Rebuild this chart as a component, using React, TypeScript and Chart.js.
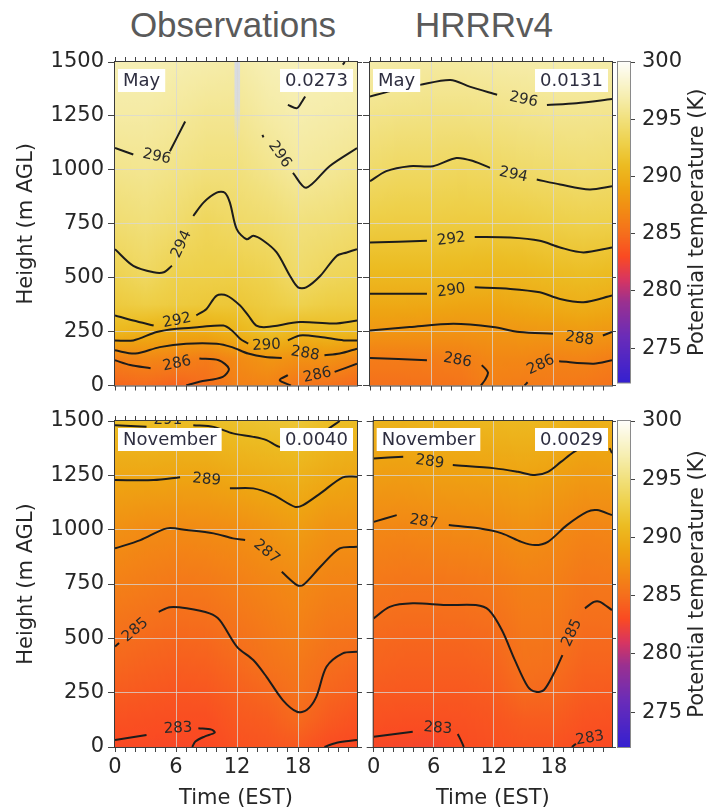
import React, { useEffect, useRef } from "react";
import { Chart, registerables } from "chart.js";

Chart.register(...registerables);

type P = [number, number] | null;
type Lab = [string, number, number, number];

// ---------- axes / ticks ----------
const HOUR_TICKS = [0, 1, 2, 3, 4, 5, 6, 7, 8, 9, 10, 11, 12, 13, 14, 15, 16, 17, 18, 19, 20, 21, 22, 23];
const MAJOR_HOURS = [0, 6, 12, 18];
const HEIGHT_TICKS = [0, 250, 500, 750, 1000, 1250, 1500];
const CBAR_TICKS = [275, 280, 285, 290, 295, 300];
const X_MAX = 23.8;
const Z_MAX = 1500;
const CBAR_MIN = 272;
const CBAR_MAX = 300;

// ---------- potential temperature field (profiles per hour, heights below) ----------
const FIELD_HOURS = [0, 3, 6, 9, 12, 15, 18, 21, 24];
const FIELD_HEIGHTS = [0, 125, 250, 375, 500, 750, 1000, 1250, 1500];

const OBS_MAY_FIELD = [
  [284.5, 286.3, 290.7, 292.3, 293.1, 294.5, 295.6, 296.5, 297.2],
  [284.8, 286.8, 290.1, 292.7, 293.8, 294.9, 295.8, 296.5, 297.2],
  [284.3, 286.5, 289.5, 292.4, 292.9, 294.4, 295.4, 296.2, 297.0],
  [285.0, 286.0, 289.6, 292.1, 292.8, 293.6, 295.0, 295.8, 296.8],
  [286.3, 287.0, 290.4, 292.0, 292.7, 294.1, 295.0, 295.8, 296.6],
  [286.5, 287.9, 291.5, 292.5, 293.1, 294.4, 295.6, 296.5, 297.2],
  [285.5, 287.5, 290.6, 293.1, 294.2, 295.0, 296.3, 296.9, 297.4],
  [285.3, 287.6, 290.9, 292.6, 293.6, 294.8, 296.0, 296.7, 297.3],
  [284.7, 286.7, 290.9, 292.5, 293.3, 294.4, 295.6, 296.5, 297.2],
];
const HRRR_MAY_FIELD = [
  [285.2, 286.0, 288.0, 289.4, 290.6, 292.6, 294.3, 295.5, 296.7],
  [285.2, 286.0, 287.9, 289.4, 290.6, 292.5, 293.9, 295.3, 296.6],
  [285.3, 286.1, 287.8, 289.3, 290.6, 292.5, 293.9, 295.2, 296.4],
  [285.4, 286.2, 287.7, 289.1, 290.5, 292.4, 293.7, 295.2, 296.4],
  [286.3, 286.8, 287.8, 289.1, 290.4, 292.4, 293.9, 295.3, 296.6],
  [286.0, 286.8, 288.0, 289.4, 290.5, 292.5, 294.2, 295.5, 296.7],
  [285.8, 286.5, 288.1, 289.7, 290.8, 292.8, 294.4, 295.7, 296.8],
  [285.7, 286.6, 288.3, 289.9, 291.0, 293.0, 294.6, 295.7, 296.8],
  [285.3, 286.1, 288.0, 289.5, 290.7, 292.9, 294.4, 295.6, 296.7],
];
const OBS_NOV_FIELD = [
  [282.9, 283.4, 284.0, 284.6, 285.1, 286.3, 287.5, 289.2, 291.1],
  [282.9, 283.3, 283.8, 284.3, 284.8, 286.0, 287.1, 289.2, 291.2],
  [282.8, 283.2, 283.6, 284.1, 284.6, 285.7, 287.0, 289.1, 291.1],
  [282.9, 283.2, 283.7, 284.2, 284.7, 285.8, 287.1, 289.1, 291.2],
  [283.4, 283.8, 284.2, 284.7, 285.2, 286.2, 287.3, 289.5, 291.5],
  [283.6, 284.0, 284.6, 285.3, 285.7, 286.6, 287.8, 289.8, 291.7],
  [283.8, 284.8, 285.3, 285.7, 286.2, 287.0, 288.4, 290.1, 292.0],
  [283.1, 283.9, 284.5, 285.0, 285.5, 286.5, 287.6, 289.5, 291.2],
  [282.9, 283.4, 284.1, 284.6, 285.3, 286.4, 287.6, 289.2, 291.0],
];
const HRRR_NOV_FIELD = [
  [282.8, 283.4, 283.9, 284.4, 284.7, 285.7, 286.8, 288.5, 290.3],
  [282.7, 283.3, 283.8, 284.2, 284.6, 285.5, 286.7, 288.4, 290.2],
  [282.6, 283.3, 283.8, 284.2, 284.6, 285.5, 286.9, 288.6, 290.4],
  [283.1, 283.4, 283.8, 284.2, 284.6, 285.6, 287.0, 288.7, 290.5],
  [283.3, 283.6, 284.0, 284.4, 284.8, 285.8, 287.1, 288.8, 290.6],
  [283.5, 284.0, 284.8, 285.3, 285.6, 286.3, 287.5, 289.0, 290.7],
  [283.4, 284.0, 284.6, 285.1, 285.5, 286.2, 287.1, 288.7, 290.5],
  [283.1, 283.5, 284.0, 284.4, 284.8, 285.6, 286.6, 288.2, 290.0],
  [282.9, 283.4, 283.9, 284.4, 284.8, 285.7, 286.7, 288.3, 290.1],
];
// missing-data stripe in the May observations [h0, h1, z0, z1]
const OBS_MAY_GAP = [11.75, 12.3, 1120, 1500];

// ---------- contour lines [hour, height], null = gap for label ----------
const OBS_MAY_296A: P[] = [[0, 1101], [1.8, 1071], null, [5.4, 1086], [6.9, 1224]];
const OBS_MAY_296B: P[] = [[17.0, 1301], [17.9, 1286], [18.4, 1317], [18.7, 1340]];
const OBS_MAY_296C: P[] = [[14.5, 1162], [14.6, 1150], null, [17.5, 986], [18.8, 917], [21.1, 1017], [23.8, 1101]];
const OBS_MAY_296D: P[] = [[22.4, 1488], [22.6, 1500]];
const OBS_MAY_294: P[] = [[0, 632], [1.8, 555], [3.8, 525], [4.8, 525], [5.6, 555], null, [7.7, 786], [8.7, 848], [10.0, 894], [10.8, 894], [11.3, 848], [11.97, 725], [12.95, 678], [13.6, 694], [14.6, 671], [15.9, 617], [17.2, 509], [18.0, 455], [18.8, 455], [20.2, 509], [21.8, 601], [22.8, 617], [23.8, 632]];
const OBS_MAY_292: P[] = [[0, 325], [1.8, 301], [3.8, 278], null, [8.0, 325], [9.0, 355], [10.0, 417], [11.0, 417], [12.3, 371], [13.1, 325], [13.9, 278], [14.9, 271], [18.2, 294], [21.5, 287], [23.8, 301]];
const OBS_MAY_290: P[] = [[0, 209], [1.8, 209], [4.1, 248], [6.1, 263], [8.3, 271], [10.65, 278], [11.5, 255], [12.3, 217], [13.1, 194], null, [17.0, 209], [18.2, 232], [20.2, 225], [22.5, 209], [23.8, 209]];
const OBS_MAY_288: P[] = [[0, 163], [2.0, 148], [4.4, 178], [7.0, 194], [10.0, 194], [11.5, 178], [13.1, 148], [14.8, 132], [16.4, 128], null, [20.6, 140], [22.1, 148], [23.8, 171]];
const OBS_MAY_286A: P[] = [[0, 117], [1.5, 95], [3.5, 80], null, [8.3, 125], [10.2, 117], [11.2, 78], [10.6, 40], [8.3, 17], [7.0, 0]];
const OBS_MAY_286B: P[] = [[17.3, 0], [16.2, 25], [17.0, 48], null, [21.6, 63], [23.8, 101]];
const OBS_MAY_LABELS: Lab[] = [
  ["296", 4.1, 1061, 12], ["296", 16.2, 1071, 55], ["294", 6.55, 655, -65], ["292", 6.1, 301, -12],
  ["290", 14.9, 186, -3], ["288", 18.7, 148, 10], ["286", 6.1, 101, -12], ["286", 19.9, 48, -12],
];

const HRRR_MAY_296: P[] = [[0, 1340], [2.0, 1365], [4.9, 1394], [7.9, 1417], [9.8, 1386], [12.5, 1348], null, [17.4, 1301], [20.3, 1309], [23.8, 1328]];
const HRRR_MAY_294: P[] = [[0, 947], [1.6, 994], [3.9, 1017], [6.2, 1017], [8.5, 1055], [10.2, 1040], [11.8, 1009], null, [16.4, 955], [18.7, 932], [21.6, 909], [23.8, 924]];
const HRRR_MAY_292: P[] = [[0, 663], [5.6, 671], null, [10.3, 689], [13.8, 686], [16.7, 671], [18.7, 640], [21.0, 617], [23.8, 640]];
const HRRR_MAY_290: P[] = [[0, 425], [5.6, 425], null, [10.3, 455], [13.8, 448], [16.7, 432], [18.7, 401], [21.0, 386], [23.8, 417]];
const HRRR_MAY_288: P[] = [[0, 255], [3.9, 271], [8.2, 286], [12.1, 271], [14.7, 248], [18.0, 240], null, [22.9, 232], [23.8, 248]];
const HRRR_MAY_286A: P[] = [[0, 128], [5.6, 117], null, [11.0, 95], [11.6, 60], [11.3, 25], [10.9, 0]];
const HRRR_MAY_286B: P[] = [[15.2, 0], [15.5, 15], null, [18.6, 112], [22.0, 101], [23.8, 117]];
const HRRR_MAY_LABELS: Lab[] = [
  ["296", 15.1, 1325, 12], ["294", 14.1, 978, 12], ["292", 8.0, 678, -8], ["290", 8.0, 440, -8],
  ["288", 20.6, 217, 8], ["286", 8.6, 117, 10], ["286", 16.8, 95, -25],
];

const OBS_NOV_291: P[] = [[0, 1481], [3.1, 1473], null, [7.7, 1481], [9.7, 1473], [11.6, 1443], [13.6, 1427], [14.9, 1412], [16.2, 1381], [18.5, 1380], [20.8, 1458], [22.1, 1500]];
const OBS_NOV_289: P[] = [[0, 1228], [3.8, 1228], [6.4, 1241], null, [11.3, 1190], [13.6, 1190], [15.6, 1159], [17.7, 1105], [18.5, 1113], [20.2, 1167], [22.4, 1241], [23.8, 1244]];
const OBS_NOV_287: P[] = [[0, 914], [2.5, 952], [5.1, 1006], [7.05, 998], [9.7, 983], [11.6, 960], [12.8, 952], null, [16.4, 806], [17.9, 745], [18.5, 745], [20.2, 829], [22.1, 914], [23.8, 921]];
const OBS_NOV_285: P[] = [[0, 462], [0.4, 478], null, [4.3, 622], [5.4, 643], [7.05, 638], [9.3, 615], [10.3, 584], [12.0, 461], [13.6, 400], [14.9, 323], [16.5, 216], [17.9, 162], [18.85, 170], [19.8, 231], [20.8, 369], [22.4, 431], [23.8, 438]];
const OBS_NOV_283A: P[] = [[0, 32], [3.1, 55], null, [8.2, 86], [9.5, 80], [9.8, 66], [8.8, 48], [7.9, 25], [7.6, 0]];
const OBS_NOV_283B: P[] = [[20.6, 0], [21.8, 20], [23.8, 32]];
const OBS_NOV_LABELS: Lab[] = [
  ["291", 5.2, 1505, 0], ["289", 9.0, 1230, 5], ["287", 14.9, 898, 40], ["285", 2.0, 538, -40], ["283", 6.2, 86, -3],
];

const HRRR_NOV_289: P[] = [[0, 1328], [2.95, 1336], null, [7.9, 1297], [12.1, 1282], [14.4, 1266], [16.1, 1251], [17.4, 1266], [18.7, 1312], [20.0, 1358], [21.5, 1400]];
const HRRR_NOV_289B: P[] = [[23.55, 1375], [23.8, 1352]];
const HRRR_NOV_287: P[] = [[0, 1036], [2.3, 1067], null, [7.5, 1021], [10.5, 1006], [12.8, 983], [14.75, 944], [16.1, 929], [17.4, 944], [19.3, 1021], [21.3, 1082], [22.3, 1090], [23.8, 1067]];
const HRRR_NOV_285: P[] = [[0, 592], [1.6, 645], [3.9, 661], [7.2, 653], [10.2, 653], [11.5, 630], [12.8, 538], [14.1, 400], [15.4, 277], [16.2, 254], [17.0, 262], [18.0, 339], [18.85, 423], null, [21.1, 638], [22.0, 668], [22.6, 668], [23.8, 630]];
const HRRR_NOV_283A: P[] = [[0, 47], [3.9, 70], null, [8.4, 60], [8.85, 17], [9.0, 0]];
const HRRR_NOV_283B: P[] = [[19.8, 0], [20.2, 15]];
const HRRR_NOV_LABELS: Lab[] = [
  ["289", 5.6, 1312, 8], ["287", 5.0, 1036, 10], ["285", 19.8, 525, -65], ["283", 6.4, 86, 5], ["283", 21.6, 40, -10],
];

// ---------- colour map ----------
const CMAP_VALUES = [272, 276, 279, 281, 283, 285, 287, 289, 291, 293, 295, 297, 300];
const CMAP_COLORS = ["#3520d0", "#6a2cb8", "#9a3090", "#d83560", "#fa4a22", "#f56e1c", "#f28a14", "#eea412", "#ecbc22", "#eed14c", "#f1e07c", "#f6eeb0", "#fefefa"];
const CMAP_RGB = CMAP_COLORS.map((h) => [parseInt(h.slice(1, 3), 16), parseInt(h.slice(3, 5), 16), parseInt(h.slice(5, 7), 16)]);

function cmap(v: number): string {
  const vs = CMAP_VALUES;
  if (v <= vs[0]) v = vs[0];
  if (v >= vs[vs.length - 1]) v = vs[vs.length - 1];
  let i = 0;
  while (i < vs.length - 2 && v > vs[i + 1]) i++;
  const t = (v - vs[i]) / (vs[i + 1] - vs[i]);
  const a = CMAP_RGB[i], b = CMAP_RGB[i + 1];
  const c = a.map((x, k) => Math.round(x + (b[k] - x) * t));
  return `rgb(${c[0]},${c[1]},${c[2]})`;
}

const FONT = '"DejaVu Sans"';
const TEXT = "#262626";
const GRID = "rgba(215,215,215,0.75)";
const TICKC = "#444";

type PanelSpec = {
  left: number; top: number; w: number; h: number;
  yw: number; y2w: number; xh: number; th: number;
  pad: { top: number; right: number; bottom: number; left: number };
  field: number[][]; contours: P[][]; labels: Lab[];
  boxL: string; boxR: string; yLabels: boolean; xLabels: boolean; gap?: number[];
};

function Panel({ spec }: { spec: PanelSpec }) {
  const ref = useRef<HTMLCanvasElement>(null);
  useEffect(() => {
    const canvas = ref.current!;
    const tickFont = { family: FONT, size: 21, lineHeight: 1 };
    const datasets = spec.contours.map((pts) => {
      const data: any[] = [];
      let lastX = 0;
      for (const p of pts) {
        if (p) { data.push({ x: p[0], y: p[1] }); lastX = p[0]; }
        else data.push({ x: lastX, y: null });
      }
      return {
        data, borderColor: "#1c1c1c", borderWidth: 2, pointRadius: 0, tension: 0.3,
        fill: false, spanGaps: false, xAxisID: "x", yAxisID: "y",
      };
    });

    const heat = {
      id: "heat",
      beforeDraw(chart: any) {
        const { ctx, chartArea: a, scales } = chart;
        const xs = scales.x, ys = scales.y;
        const y0 = ys.getPixelForValue(0), y1 = ys.getPixelForValue(Z_MAX);
        ctx.save();
        for (let px = Math.floor(a.left); px < Math.ceil(a.right); px++) {
          const hv = xs.getValueForPixel(px + 0.5);
          let i = 0;
          while (i < FIELD_HOURS.length - 2 && hv > FIELD_HOURS[i + 1]) i++;
          let t = (hv - FIELD_HOURS[i]) / (FIELD_HOURS[i + 1] - FIELD_HOURS[i]);
          t = Math.max(0, Math.min(1, t));
          const prof = FIELD_HEIGHTS.map((_, k) => spec.field[i][k] * (1 - t) + spec.field[i + 1][k] * t);
          const g = ctx.createLinearGradient(0, y0, 0, y1);
          for (let z = 0; z <= Z_MAX; z += 25) {
            let k = 0;
            while (k < FIELD_HEIGHTS.length - 2 && z > FIELD_HEIGHTS[k + 1]) k++;
            const u = (z - FIELD_HEIGHTS[k]) / (FIELD_HEIGHTS[k + 1] - FIELD_HEIGHTS[k]);
            const v = prof[k] * (1 - u) + prof[k + 1] * u;
            g.addColorStop((ys.getPixelForValue(z) - y0) / (y1 - y0), cmap(v));
          }
          ctx.fillStyle = g;
          ctx.fillRect(px, a.top, 1, a.bottom - a.top);
        }
        if (spec.gap) {
          const [h0, h1, z0, z1] = spec.gap;
          const gx0 = xs.getPixelForValue(h0), gx1 = xs.getPixelForValue(h1);
          const gy0 = ys.getPixelForValue(z0), gy1 = ys.getPixelForValue(z1);
          const gg = ctx.createLinearGradient(0, gy0, 0, gy1);
          gg.addColorStop(0, "rgba(214,218,230,0)");
          gg.addColorStop(0.5, "rgba(214,218,230,0.85)");
          gg.addColorStop(1, "rgba(214,218,230,0.95)");
          ctx.fillStyle = gg;
          ctx.fillRect(gx0, gy1, gx1 - gx0, gy0 - gy1);
        }
        ctx.restore();
      },
    };

    const deco = {
      id: "deco",
      afterDatasetsDraw(chart: any) {
        const { ctx, chartArea: a, scales } = chart;
        const xs = scales.x, ys = scales.y;
        ctx.save();
        ctx.beginPath();
        ctx.rect(a.left, a.top, a.right - a.left, a.bottom - a.top);
        ctx.clip();
        ctx.font = `15px ${FONT}`;
        ctx.fillStyle = "#2a2a2a";
        ctx.textAlign = "center";
        ctx.textBaseline = "middle";
        for (const [txt, hv, zv, ang] of spec.labels) {
          ctx.save();
          ctx.translate(xs.getPixelForValue(hv), ys.getPixelForValue(zv));
          ctx.rotate((ang * Math.PI) / 180);
          ctx.fillText(txt, 0, 0);
          ctx.restore();
        }
        // info boxes
        ctx.font = `18px ${FONT}`;
        ctx.textAlign = "left";
        const bh = 23, by = a.top + 7, pad = 5;
        const wl = ctx.measureText(spec.boxL).width;
        ctx.fillStyle = "#ffffff";
        ctx.fillRect(a.left + 3, by, wl + 2 * pad, bh);
        const wr = ctx.measureText(spec.boxR).width;
        const rx = a.right - 4 - (wr + 2 * pad);
        ctx.fillRect(rx, by, wr + 2 * pad, bh);
        ctx.fillStyle = "#2e2e40";
        ctx.fillText(spec.boxL, a.left + 3 + pad, by + bh / 2 + 1);
        ctx.fillText(spec.boxR, rx + pad, by + bh / 2 + 1);
        ctx.restore();
        // frame
        ctx.save();
        ctx.strokeStyle = "#3a3a3a";
        ctx.lineWidth = 1;
        ctx.strokeRect(a.left - 0.5, a.top - 0.5, a.right - a.left + 1, a.bottom - a.top + 1);
        ctx.restore();
      },
    };

    const chart = new Chart(canvas, {
      type: "line",
      data: { datasets } as any,
      options: {
        animation: false,
        responsive: false,
        devicePixelRatio: 1,
        events: [],
        layout: { padding: spec.pad },
        plugins: { legend: { display: false }, tooltip: { enabled: false } },
        scales: {
          x: {
            type: "linear", position: "bottom", min: 0, max: X_MAX,
            afterBuildTicks: (s: any) => { s.ticks = HOUR_TICKS.map((v) => ({ value: v })); },
            afterFit: (s: any) => { s.height = spec.xh; },
            ticks: {
              display: spec.xLabels, autoSkip: false, maxRotation: 0, minRotation: 0, padding: 5,
              font: tickFont, color: TEXT,
              callback: (v: any) => (MAJOR_HOURS.includes(Number(v)) ? String(v) : ""),
            },
            grid: {
              color: (c: any) => (c.tick && MAJOR_HOURS.includes(c.tick.value) && c.tick.value > 0 ? GRID : "rgba(0,0,0,0)"),
              tickColor: TICKC, tickLength: 5, drawTicks: true, lineWidth: 1,
            },
            border: { display: false },
            title: {
              display: spec.xLabels, text: "Time (EST)", color: TEXT,
              font: { family: FONT, size: 21, lineHeight: 1 }, padding: { top: 0, bottom: 1 },
            },
          },
          x2: {
            type: "linear", position: "top", min: 0, max: X_MAX,
            afterBuildTicks: (s: any) => { s.ticks = HOUR_TICKS.map((v) => ({ value: v })); },
            afterFit: (s: any) => { s.height = spec.th; },
            ticks: { display: false },
            grid: { drawOnChartArea: false, tickLength: 5, tickColor: TICKC },
            border: { display: false },
          },
          y: {
            type: "linear", position: "left", min: 0, max: Z_MAX,
            afterBuildTicks: (s: any) => { s.ticks = HEIGHT_TICKS.map((v) => ({ value: v })); },
            afterFit: (s: any) => { s.width = spec.yw; },
            ticks: {
              padding: 4, font: tickFont, color: TEXT,
              callback: (v: any) => (spec.yLabels ? String(v) : ""),
            },
            grid: {
              color: (c: any) => (c.tick && c.tick.value > 0 && c.tick.value < Z_MAX ? GRID : "rgba(0,0,0,0)"),
              tickColor: TICKC, tickLength: 7, lineWidth: 1,
            },
            border: { display: false },
            title: {
              display: spec.yLabels, text: "Height (m AGL)", color: TEXT,
              font: { family: FONT, size: 21, lineHeight: 1 }, padding: { top: 16.5, bottom: 0 },
            },
          },
          y2: {
            type: "linear", position: "right", min: 0, max: Z_MAX,
            afterBuildTicks: (s: any) => { s.ticks = HEIGHT_TICKS.map((v) => ({ value: v })); },
            afterFit: (s: any) => { s.width = spec.y2w; },
            ticks: { display: false },
            grid: { drawOnChartArea: false, tickLength: spec.y2w, tickColor: TICKC },
            border: { display: false },
          },
        },
      } as any,
      plugins: [heat, deco],
    });
    return () => chart.destroy();
  }, []);
  return (
    <canvas
      ref={ref}
      width={spec.w}
      height={spec.h}
      style={{ position: "absolute", left: spec.left, top: spec.top, width: spec.w, height: spec.h }}
    />
  );
}

function ColorBar({ left, top, w, h, padTop, padBottom }: { left: number; top: number; w: number; h: number; padTop: number; padBottom: number }) {
  const ref = useRef<HTMLCanvasElement>(null);
  useEffect(() => {
    const canvas = ref.current!;
    const bar = {
      id: "bar",
      beforeDatasetsDraw(chart: any) {
        const { ctx, chartArea: a, scales } = chart;
        const ys = scales.y;
        ctx.save();
        for (let py = Math.floor(a.top); py < Math.ceil(a.bottom); py++) {
          ctx.fillStyle = cmap(ys.getValueForPixel(py + 0.5));
          ctx.fillRect(a.left, py, a.right - a.left, 1);
        }
        ctx.strokeStyle = "#8a8a8a";
        ctx.lineWidth = 1;
        ctx.strokeRect(a.left - 0.5, a.top - 0.5, a.right - a.left + 1, a.bottom - a.top + 1);
        ctx.font = `21px ${FONT}`;
        ctx.fillStyle = TEXT;
        ctx.textAlign = "center";
        ctx.textBaseline = "middle";
        ctx.translate(82, (a.top + a.bottom) / 2);
        ctx.rotate(-Math.PI / 2);
        ctx.fillText("Potential temperature (K)", 0, 0);
        ctx.restore();
      },
    };
    const chart = new Chart(canvas, {
      type: "scatter",
      data: { datasets: [] },
      options: {
        animation: false,
        responsive: false,
        devicePixelRatio: 1,
        events: [],
        layout: { padding: { left: 2, right: 0, top: padTop, bottom: padBottom } },
        plugins: { legend: { display: false }, tooltip: { enabled: false } },
        scales: {
          x: { display: false, min: 0, max: 1 },
          y: {
            type: "linear", position: "right", min: CBAR_MIN, max: CBAR_MAX,
            afterBuildTicks: (s: any) => { s.ticks = CBAR_TICKS.map((v) => ({ value: v })); },
            afterFit: (s: any) => { s.width = 82; },
            ticks: { padding: 7, font: { family: FONT, size: 21, lineHeight: 1 }, color: TEXT },
            grid: { drawOnChartArea: false, tickLength: 5, tickColor: TICKC },
            border: { display: false },
          },
        },
      } as any,
      plugins: [bar],
    });
    return () => chart.destroy();
  }, []);
  return (
    <canvas ref={ref} width={w} height={h} style={{ position: "absolute", left, top, width: w, height: h }} />
  );
}

const PANELS: PanelSpec[] = [
  {
    left: 0, top: 40, w: 362, h: 360, yw: 115, y2w: 5, xh: 8, th: 12,
    pad: { top: 10, right: 0, bottom: 5, left: 0 },
    field: OBS_MAY_FIELD,
    contours: [OBS_MAY_296A, OBS_MAY_296B, OBS_MAY_296C, OBS_MAY_296D, OBS_MAY_294, OBS_MAY_292, OBS_MAY_290, OBS_MAY_288, OBS_MAY_286A, OBS_MAY_286B],
    labels: OBS_MAY_LABELS, boxL: "May", boxR: "0.0273", yLabels: true, xLabels: false, gap: OBS_MAY_GAP,
  },
  {
    left: 362, top: 40, w: 254, h: 360, yw: 8, y2w: 4, xh: 8, th: 12,
    pad: { top: 10, right: 0, bottom: 5, left: 0 },
    field: HRRR_MAY_FIELD,
    contours: [HRRR_MAY_296, HRRR_MAY_294, HRRR_MAY_292, HRRR_MAY_290, HRRR_MAY_288, HRRR_MAY_286A, HRRR_MAY_286B],
    labels: HRRR_MAY_LABELS, boxL: "May", boxR: "0.0131", yLabels: false, xLabels: false,
  },
  {
    left: 0, top: 400, w: 362, h: 410, yw: 115, y2w: 5, xh: 63, th: 12,
    pad: { top: 9, right: 0, bottom: 0, left: 0 },
    field: OBS_NOV_FIELD,
    contours: [OBS_NOV_291, OBS_NOV_289, OBS_NOV_287, OBS_NOV_285, OBS_NOV_283A, OBS_NOV_283B],
    labels: OBS_NOV_LABELS, boxL: "November", boxR: "0.0040", yLabels: true, xLabels: true,
  },
  {
    left: 362, top: 400, w: 254, h: 410, yw: 8, y2w: 4, xh: 63, th: 12,
    pad: { top: 9, right: 0, bottom: 0, left: 0 },
    field: HRRR_NOV_FIELD,
    contours: [HRRR_NOV_289, HRRR_NOV_289B, HRRR_NOV_287, HRRR_NOV_285, HRRR_NOV_283A, HRRR_NOV_283B],
    labels: HRRR_NOV_LABELS, boxL: "November", boxR: "0.0029", yLabels: false, xLabels: true,
  },
];

export default function App() {
  const titleStyle: React.CSSProperties = {
    position: "absolute", top: 5, width: 300, textAlign: "center",
    fontFamily: '"Liberation Sans", Arial, sans-serif', fontSize: 35, lineHeight: "40px", color: "#5a5a5a",
  };
  return (
    <div style={{ position: "absolute", left: 0, top: 0, width: 712, height: 810, background: "#ffffff", overflow: "hidden" }}>
      <div style={{ ...titleStyle, left: 83 }}>Observations</div>
      <div style={{ ...titleStyle, left: 334 }}>HRRRv4</div>
      {PANELS.map((p, i) => (
        <Panel key={i} spec={p} />
      ))}
      <ColorBar left={616} top={40} w={96} h={360} padTop={22} padBottom={13} />
      <ColorBar left={616} top={400} w={96} h={410} padTop={21} padBottom={63} />
    </div>
  );
}
